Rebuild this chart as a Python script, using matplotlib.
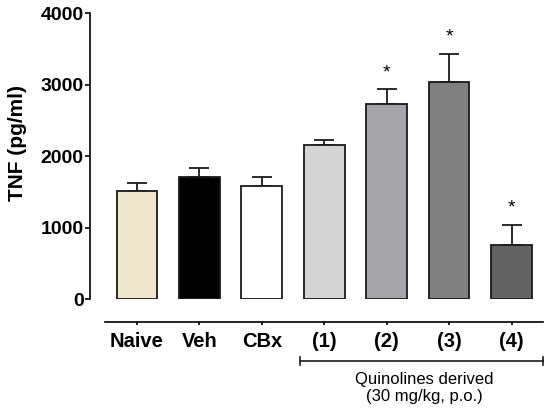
import matplotlib
matplotlib.use("Agg")
import matplotlib.pyplot as plt
import numpy as np

# values (TNF, pg/ml)
groups = ["Naive", "Veh", "CBx", "(1)", "(2)", "(3)", "(4)"]
means = [1520, 1716, 1585, 2158, 2731, 3045, 759]
sem = [112, 120, 121, 70, 206, 391, 286]
signif = [False, False, False, False, True, True, True]
colors = ["#efe7cb", "#000000", "#ffffff", "#d4d4d4", "#a5a5a9", "#808080", "#636363"]

plt.rcParams["font.family"] = ["Liberation Sans", "DejaVu Sans"]

fig = plt.figure(figsize=(5.5, 4.12), dpi=100)
ax = fig.add_axes([0.1636, 0.2735, 0.8291, 0.6942])

x = np.arange(len(groups))
ax.bar(x, means, width=0.65, color=colors, edgecolor="#1a1a1a", linewidth=1.3,
       zorder=2)
ax.errorbar(x, means, yerr=[np.zeros(len(sem)), sem], fmt="none", ecolor="#1a1a1a",
            elinewidth=1.3, capsize=7.5, capthick=1.3, zorder=1)

for xi, m, e, s in zip(x, means, sem, signif):
    if s:
        ax.annotate("*", (xi, m + e), xytext=(0, 12), textcoords="offset points",
                    ha="center", va="center", fontsize=14)

ax.spines["top"].set_visible(False)
ax.spines["right"].set_visible(False)
ax.spines["left"].set_linewidth(1.2)
ax.spines["bottom"].set_linewidth(1.2)
ax.spines["bottom"].set_position(("outward", 16))
ax.spines["bottom"].set_bounds(-0.51, 6.51)

ax.set_xlim(-0.75, 6.55)
ax.set_ylim(0, 4000)
ax.set_yticks([0, 1000, 2000, 3000, 4000])
ax.set_xticks(x)
ax.set_xticklabels(groups, fontsize=14.5, fontweight="bold")
for lab in ax.get_yticklabels():
    lab.set_fontsize(14)
    lab.set_fontweight("bold")
ax.tick_params(axis="y", length=3.6, width=1.2, pad=1)
ax.tick_params(axis="x", length=2.5, width=1.2, pad=5)

ax.set_ylabel("TNF (pg/ml)", fontsize=15, fontweight="bold")
ax.yaxis.set_label_coords(-0.138, 0.546)

# bracket under the quinoline groups
trans = ax.get_xaxis_transform()
by = -0.2157
ax.plot([2.62, 6.50], [by, by], color="#1a1a1a", lw=1.2, transform=trans, clip_on=False)
for bx in (2.62, 6.50):
    ax.plot([bx, bx], [by - 0.014, by + 0.014], color="#1a1a1a", lw=1.2,
            transform=trans, clip_on=False)
ax.text(4.6, -0.31, "Quinolines derived\n(30 mg/kg, p.o.)", transform=trans,
        ha="center", va="center", fontsize=12, linespacing=1.1)

fig.savefig("out.png", dpi=100)
